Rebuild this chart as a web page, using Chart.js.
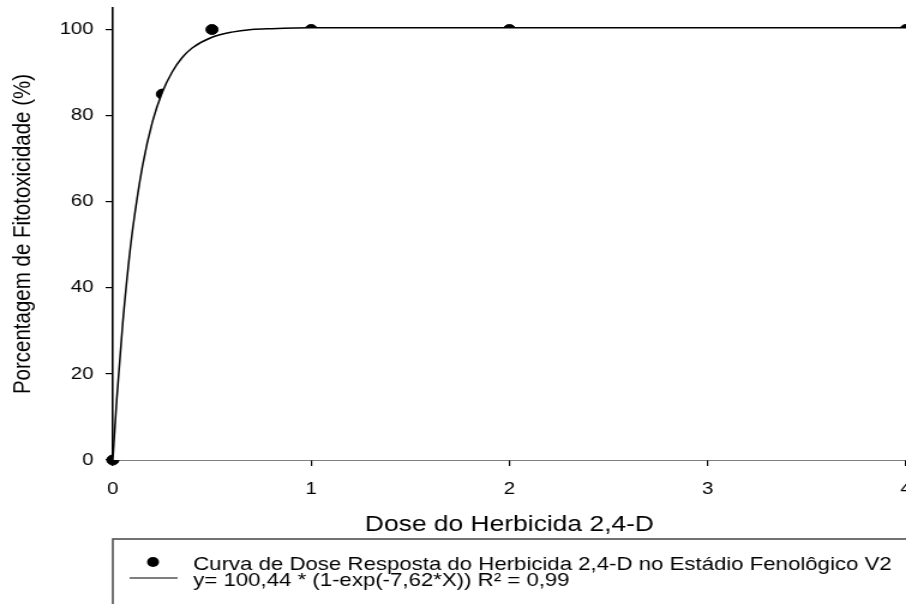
<!DOCTYPE html>
<html>
<head>
<meta charset="utf-8">
<script src="https://cdn.jsdelivr.net/npm/chart.js@4/dist/chart.umd.min.js"></script>
<style>
  body { margin: 0; background: #fff; overflow: hidden; }
  /* source figure is stretched horizontally, so stretch the canvas the same way */
  #canvas { transform: scaleX(1.2); transform-origin: 0 0; }
</style>
</head>
<body>
<canvas id="canvas" width="755" height="604"></canvas>
<script>
// observed points
const doseX = [0, 0.25, 0.5, 1, 2, 4];
const fitoY = [0, 85, 100, 100, 100, 100];

// fitted curve
const curveX = [0, 0.02, 0.05, 0.08, 0.1, 0.15, 0.2, 0.25, 0.3, 0.35, 0.4, 0.5, 0.6, 0.7, 0.8, 1, 2, 4];
const curveY = [0, 14.2, 31.8, 45.8, 53.6, 68.4, 78.6, 85.5, 90.2, 93.5, 95.7, 98.2, 99.4, 100, 100.2, 100.4, 100.4, 100.4];

const xTicks = [0, 1, 2, 3, 4];
const yTicks = [0, 20, 40, 60, 80, 100];

const pointLabel = 'Curva de Dose Resposta do Herbicida 2,4-D no Estádio Fenolôgico V2';
const curveLabel = 'y= 100,44 * (1-exp(-7,62*X)) R² = 0,99';

const FONT = "'Liberation Sans', Arial, sans-serif";

// legend box under the axis title
const legendBox = {
  id: 'legendBox',
  afterDraw(chart) {
    const ctx = chart.ctx;
    ctx.save();
    ctx.strokeStyle = '#444';
    ctx.lineWidth = 1.5;
    ctx.strokeRect(94, 539, 700, 100);
    ctx.fillStyle = '#000';
    ctx.beginPath();
    ctx.arc(127.5, 562, 5, 0, Math.PI * 2);
    ctx.fill();
    ctx.strokeStyle = '#000';
    ctx.lineWidth = 1.2;
    ctx.beginPath();
    ctx.moveTo(108, 578);
    ctx.lineTo(148, 578);
    ctx.stroke();
    ctx.font = '18.5px ' + FONT;
    ctx.textBaseline = 'alphabetic';
    ctx.fillText(pointLabel, 161, 570);
    ctx.fillText(curveLabel, 161, 586);
    ctx.restore();
  }
};

const ctx = document.getElementById('canvas').getContext('2d');
const myChart = new Chart(ctx, {
  type: 'scatter',
  data: {
    datasets: [{
      label: curveLabel,
      data: curveX.map((x, i) => ({x: x, y: curveY[i]})),
      showLine: true,
      borderColor: '#000',
      borderWidth: 1.5,
      backgroundColor: '#fff',
      fill: 'origin', // area under the curve hides the lower half of the dots, as in the original
      pointRadius: 0,
      cubicInterpolationMode: 'monotone',
      clip: false,
      order: 0
    }, {
      label: pointLabel,
      data: doseX.map((x, i) => ({x: x, y: fitoY[i]})),
      backgroundColor: '#000',
      borderColor: '#000',
      pointRadius: 5,
      clip: false,
      order: 1
    }]
  },
  options: {
    responsive: false,
    animation: false,
    devicePixelRatio: 1,
    layout: { autoPadding: false, padding: { top: 8, left: 0, right: 0, bottom: 66 } },
    plugins: {
      legend: { display: false },
      tooltip: { enabled: false }
    },
    scales: {
      x: {
        type: 'linear',
        min: 0,
        max: 4,
        z: 1,
        afterBuildTicks: s => { s.ticks = xTicks.map(v => ({value: v})); },
        afterFit: s => { s.height = 78; s.paddingLeft = 0; s.paddingRight = 0; },
        grid: { drawOnChartArea: false, drawTicks: true, tickLength: 6, color: '#000', lineWidth: 1.2 },
        border: { display: true, color: '#000', width: 1.6 },
        ticks: { color: '#000', padding: 13, font: { family: FONT, size: 17 } },
        title: {
          display: true,
          text: 'Dose do Herbicida 2,4-D',
          color: '#000',
          padding: 0,
          font: { family: FONT, size: 22 }
        }
      },
      y: {
        min: 0,
        max: 105,
        afterBuildTicks: s => { s.ticks = yTicks.map(v => ({value: v})); },
        afterFit: s => { s.width = 94; s.paddingTop = 0; s.paddingBottom = 0; },
        grid: { drawOnChartArea: false, drawTicks: true, tickLength: 6, color: '#000', lineWidth: 1.2 },
        border: { display: true, color: '#000', width: 1.6 },
        ticks: { color: '#000', padding: 10, font: { family: FONT, size: 17 } },
        title: {
          display: true,
          text: 'Porcentagem de Fitotoxicidade (%)',
          color: '#000',
          padding: { top: 7, bottom: 0 },
          font: { family: FONT, size: 20.5 }
        }
      }
    }
  },
  plugins: [legendBox]
});
</script>
</body>
</html>
